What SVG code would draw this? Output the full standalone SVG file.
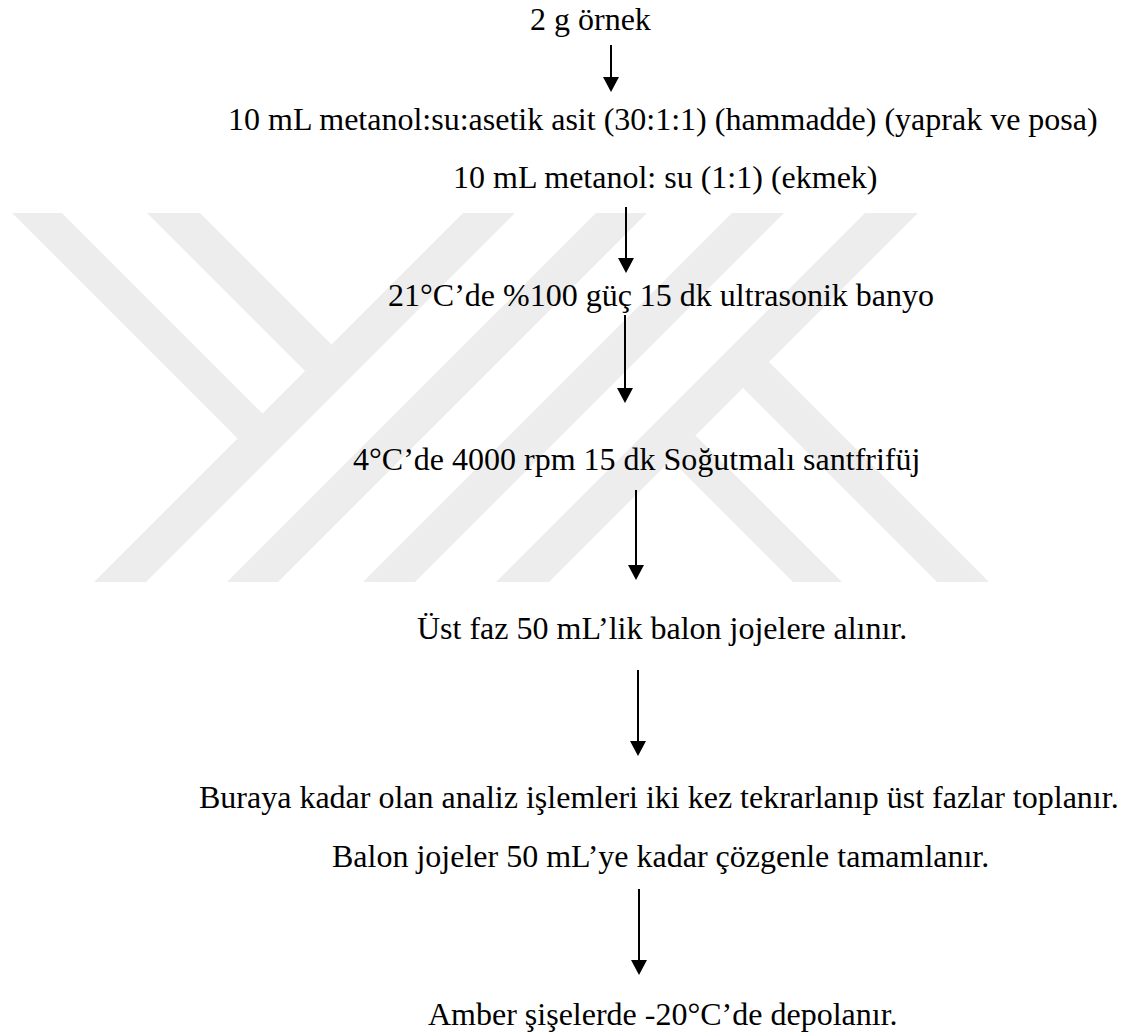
<svg xmlns="http://www.w3.org/2000/svg" width="1131" height="1033" viewBox="0 0 1131 1033">
  <style>
    .step { font-family: "Liberation Serif", "Times New Roman", serif; font-size: 32px; fill: #000; }
    .flow { stroke: #000; stroke-width: 2; fill: none; marker-end: url(#head); }
    .mark { fill: #ededed; }
  </style>
  <defs>
    <marker id="head" markerUnits="userSpaceOnUse" markerWidth="16" markerHeight="16" refX="1" refY="8" orient="auto">
      <path d="M0,0 L15,8 L0,16 z" fill="#000"/>
    </marker>
    <clipPath id="band">
      <rect x="0" y="213" width="1131" height="369"/>
    </clipPath>
  </defs>

  <rect width="1131" height="1033" fill="#fff"/>

  <!-- background emblem: diagonal stripes -->
  <g id="emblem" clip-path="url(#band)">
    <polygon class="mark" points="463,213 515,213 146,582 94,582"/>
    <polygon class="mark" points="596,213 647,213 278,582 227,582"/>
    <polygon class="mark" points="732,213 784,213 415,582 363,582"/>
    <polygon class="mark" points="865,213 918,213 549,582 496,582"/>
    <polygon class="mark" points="12,213 62,213 269.5,420.5 244.5,445.5"/>
    <polygon class="mark" points="147,213 200,213 338.5,351.5 312,378"/>
    <polygon class="mark" points="763.5,356.5 989,582 937,582 737.5,382.5"/>
    <polygon class="mark" points="690,430 842,582 793,582 665.5,454.5"/>
  </g>

  <g id="connectors">
    <line class="flow" x1="611" y1="45" x2="611" y2="78"/>
    <line class="flow" x1="626" y1="207" x2="626" y2="259"/>
    <line class="flow" x1="625" y1="315" x2="625" y2="389"/>
    <line class="flow" x1="636" y1="490" x2="636" y2="566"/>
    <line class="flow" x1="638" y1="670" x2="638" y2="742"/>
    <line class="flow" x1="639" y1="889" x2="639" y2="961"/>
  </g>

  <g id="sample"><text class="step" x="530" y="30">2 g örnek</text></g>
  <g id="solvent">
    <text class="step" x="228" y="130">10 mL metanol:su:asetik asit (30:1:1) (hammadde) (yaprak ve posa)</text>
    <text class="step" x="453" y="188">10 mL metanol: su (1:1) (ekmek)</text>
  </g>
  <g id="ultrasonic"><text class="step" x="388" y="306">21°C’de %100 güç 15 dk ultrasonik banyo</text></g>
  <g id="centrifuge"><text class="step" x="353" y="470">4°C’de 4000 rpm 15 dk Soğutmalı santfrifüj</text></g>
  <g id="supernatant"><text class="step" x="417" y="639">Üst faz 50 mL’lik balon jojelere alınır.</text></g>
  <g id="repeat">
    <text class="step" x="199" y="808">Buraya kadar olan analiz işlemleri iki kez tekrarlanıp üst fazlar toplanır.</text>
    <text class="step" x="332" y="867">Balon jojeler 50 mL’ye kadar çözgenle tamamlanır.</text>
  </g>
  <g id="storage"><text class="step" x="428" y="1025">Amber şişelerde -20°C’de depolanır.</text></g>
</svg>
